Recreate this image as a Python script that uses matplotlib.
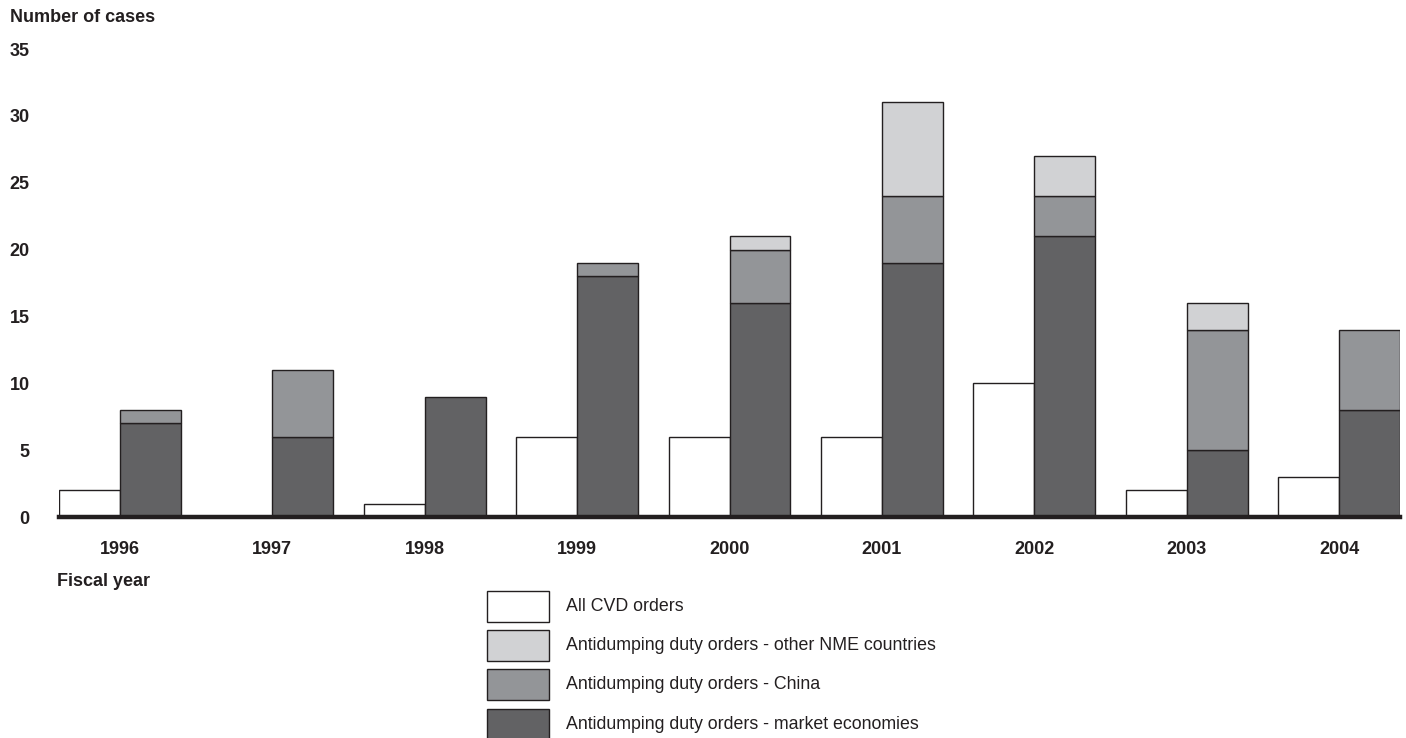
import matplotlib.pyplot as plt
import numpy as np
from matplotlib.patches import Rectangle

plt.rcParams["font.family"] = ["Liberation Sans", "DejaVu Sans"]

years = ["1996", "1997", "1998", "1999", "2000", "2001", "2002", "2003", "2004"]
cvd = [2, 0, 1, 6, 6, 6, 10, 2, 3]
ad_market = [7, 6, 9, 18, 16, 19, 21, 5, 8]
ad_china = [1, 5, 0, 1, 4, 5, 3, 9, 6]
ad_other_nme = [0, 0, 0, 0, 1, 7, 3, 2, 0]

labels = [
    "All CVD orders",
    "Antidumping duty orders - other NME countries",
    "Antidumping duty orders - China",
    "Antidumping duty orders - market economies",
]
c_cvd = "#ffffff"
c_other = "#d1d2d4"
c_china = "#939598"
c_market = "#626264"
edge = "#231f20"

W, H = 1406, 738
fig = plt.figure(figsize=(W / 100, H / 100), dpi=100)
ax = fig.add_axes([59 / W, (H - 517) / H, (1400 - 59) / W, (517 - 49) / H])

x = np.arange(len(years))
width = 0.4
market = np.array(ad_market)
china = np.array(ad_china)
other = np.array(ad_other_nme)

cvd_arr = np.array(cvd)
mask = cvd_arr > 0
ax.bar(x[mask], cvd_arr[mask], width=-width, align="edge", color=c_cvd,
       edgecolor=edge, linewidth=1)
ax.bar(x, market, width=width, align="edge", color=c_market,
       edgecolor=edge, linewidth=1)
m = china > 0
ax.bar(x[m], china[m], bottom=market[m], width=width, align="edge",
       color=c_china, edgecolor=edge, linewidth=1)
m = other > 0
ax.bar(x[m], other[m], bottom=(market + china)[m], width=width, align="edge",
       color=c_other, edgecolor=edge, linewidth=1)

ax.set_xlim(-0.4, len(years) - 1 + 0.4)
ax.set_ylim(0, 35)
ax.set_yticks(range(0, 36, 5))
ax.set_yticklabels([str(v) for v in range(0, 36, 5)], fontweight="bold", fontsize=13)
ax.set_xticks(x)
ax.set_xticklabels(years, fontweight="bold", fontsize=13)
ax.tick_params(axis="y", length=0, pad=21, colors="#231f20")
ax.tick_params(axis="x", length=0, pad=17, colors="#231f20")
for s in ["left", "top", "right"]:
    ax.spines[s].set_visible(False)
ax.spines["bottom"].set_linewidth(3.2)
ax.spines["bottom"].set_color(edge)
ax.spines["bottom"].set_zorder(5)

fig.text(10 / W, 1 - 18 / H, "Number of cases", fontsize=13, fontweight="bold",
         va="center", ha="left", color="#231f20")
fig.text(57 / W, 1 - 581 / H, "Fiscal year", fontsize=13, fontweight="bold",
         va="center", ha="left", color="#231f20")

# legend drawn by hand
box_cols = [c_cvd, c_other, c_china, c_market]
box_tops = [591, 630, 669, 709]
for lab, col, top in zip(labels, box_cols, box_tops):
    fig.patches.append(Rectangle((487 / W, 1 - (top + 31) / H), 62 / W, 31 / H,
                                 transform=fig.transFigure, facecolor=col,
                                 edgecolor=edge, linewidth=1))
    fig.text(566 / W, 1 - (top + 15.5) / H, lab, fontsize=12.8,
             va="center", ha="left", color="#231f20")

fig.savefig("out.png", dpi=100)
